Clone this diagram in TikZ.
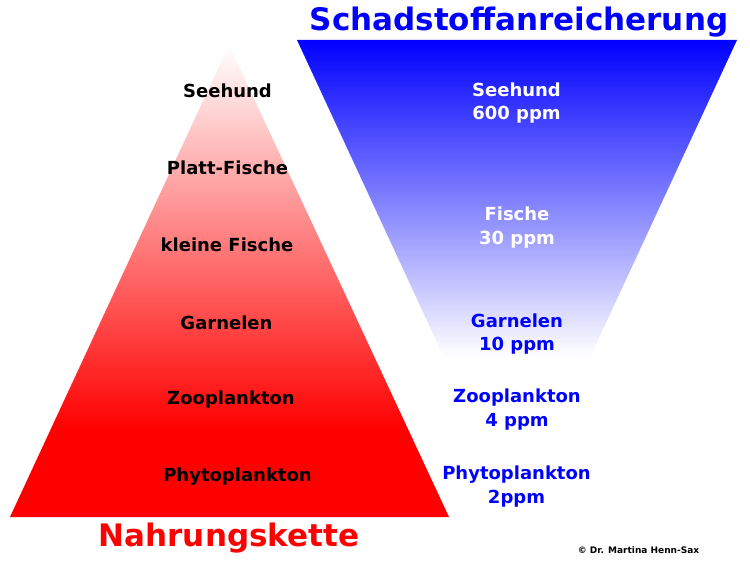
\documentclass[tikz,border=0pt]{standalone}
\usepackage{fontspec}
\setmainfont{DejaVu Sans}
\pgfdeclareverticalshading{redfade}{100bp}{color(0bp)=(red); color(25bp)=(red); color(34.2bp)=(red); color(75bp)=(white); color(100bp)=(white)}
\begin{document}
\begin{tikzpicture}[x=1pt,y=-1pt,
  lbl/.style={font=\bfseries\fontsize{18}{18}\selectfont, anchor=base, inner sep=0pt},
  bigtitle/.style={font=\bfseries\fontsize{31}{31}\selectfont, anchor=base, inner sep=0pt},
  small/.style={font=\bfseries\fontsize{9}{9}\selectfont, anchor=base, inner sep=0pt}]
\useasboundingbox (0,0) rectangle (750,569);
% food chain pyramid
\shade[shading=redfade] (229,45) -- (449,517) -- (10,517) -- cycle;
% pollutant accumulation (fading inverted triangle)
\shade[top color=blue, bottom color=white] (297,40) -- (737,40) -- (590.2,357) -- (443.8,357) -- cycle;
% titles
\node[bigtitle, text=blue] (tschad) at (519,30.5) {Schadstoffanreicherung};
\node[bigtitle, text=red] (tnahr) at (229,546.5) {Nahrungskette};
% left labels
\node[lbl] (lseehund) at (227.5,97.6) {Seehund};
\node[lbl] (lplatt) at (227.5,174.6) {Platt-Fische};
\node[lbl] (lklein) at (227,251.6) {kleine Fische};
\node[lbl] (lgarn) at (226.5,329.3) {Garnelen};
\node[lbl] (lzoo) at (231,404.4) {Zooplankton};
\node[lbl] (lphyto) at (237.5,481) {Phytoplankton};
% right labels
\node[lbl, text=white] (rseehund) at (516.5,96.6) {Seehund};
\node[lbl, text=white] (rseehundv) at (516.5,120) {600 ppm};
\node[lbl, text=white] (rfisch) at (517,220.6) {Fische};
\node[lbl, text=white] (rfischv) at (517,244.3) {30 ppm};
\node[lbl, text=blue] (rgarn) at (517,327.6) {Garnelen};
\node[lbl, text=blue] (rgarnv) at (517,351) {10 ppm};
\node[lbl, text=blue] (rzoo) at (517,402.6) {Zooplankton};
\node[lbl, text=blue] (rzoov) at (517,426.6) {4 ppm};
\node[lbl, text=blue] (rphyto) at (516.5,479.6) {Phytoplankton};
\node[lbl, text=blue] (rphytov) at (516.5,503.6) {2ppm};
% copyright
\node[small] (copy) at (638.5,553.5) {© Dr. Martina Henn-Sax};
\end{tikzpicture}
\end{document}
